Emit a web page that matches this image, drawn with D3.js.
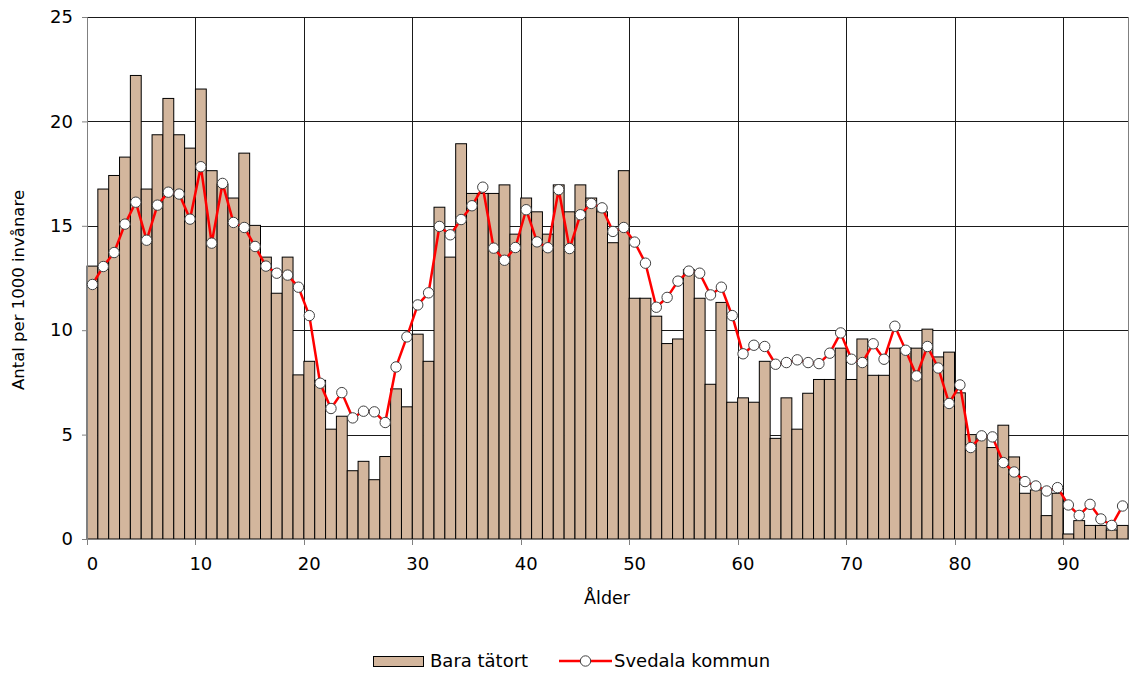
<!DOCTYPE html>
<html lang="sv">
<head>
<meta charset="utf-8">
<title>Antal per 1000 invånare efter ålder</title>
<script src="https://cdn.jsdelivr.net/npm/d3@7/dist/d3.min.js"></script>
<style>
  html, body { margin: 0; padding: 0; background: #fff; }
  svg { display: block; font-family: "DejaVu Sans", Verdana, sans-serif; }
</style>
</head>
<body>
<svg id="chart" width="1129" height="673"></svg>
<script>
// Ages 0–95
const ages = [
  0, 1, 2, 3, 4, 5, 6, 7, 8, 9,
  10, 11, 12, 13, 14, 15, 16, 17, 18, 19,
  20, 21, 22, 23, 24, 25, 26, 27, 28, 29,
  30, 31, 32, 33, 34, 35, 36, 37, 38, 39,
  40, 41, 42, 43, 44, 45, 46, 47, 48, 49,
  50, 51, 52, 53, 54, 55, 56, 57, 58, 59,
  60, 61, 62, 63, 64, 65, 66, 67, 68, 69,
  70, 71, 72, 73, 74, 75, 76, 77, 78, 79,
  80, 81, 82, 83, 84, 85, 86, 87, 88, 89,
  90, 91, 92, 93, 94, 95
];

// Bara tätort – antal per 1000 invånare
const baraTatort = [
  13.07, 16.76, 17.41, 18.29, 22.20, 16.76, 19.36, 21.10, 19.36, 18.72,
  21.55, 17.64, 17.00, 16.33, 18.48, 15.02, 13.50, 11.77, 13.50, 7.86,
  8.51, 7.60, 5.26, 5.88, 3.27, 3.72, 2.84, 3.95, 7.19, 6.33,
  9.81, 8.51, 15.89, 13.50, 18.93, 16.55, 16.55, 16.55, 16.96, 14.60,
  16.33, 15.67, 14.60, 16.96, 15.67, 16.96, 16.33, 15.67, 14.19, 17.64,
  11.53, 11.53, 10.67, 9.36, 9.58, 12.90, 11.53, 7.41, 11.33, 6.55,
  6.76, 6.55, 8.51, 4.82, 6.76, 5.26, 6.98, 7.64, 7.64, 9.14,
  7.64, 9.58, 7.84, 7.84, 9.14, 9.14, 9.14, 10.05, 8.72, 8.95,
  7.00, 5.00, 4.90, 4.38, 5.45, 3.93, 2.19, 2.35, 1.12, 2.19,
  0.24, 0.88, 0.65, 0.65, 0.43, 0.65
];

// Svedala kommun – antal per 1000 invånare
const svedalaKommun = [
  12.19, 13.05, 13.72, 15.08, 16.13, 14.31, 15.99, 16.61, 16.52, 15.32,
  17.83, 14.17, 17.03, 15.16, 14.92, 14.01, 13.07, 12.73, 12.64, 12.06,
  10.70, 7.46, 6.25, 7.01, 5.80, 6.12, 6.09, 5.58, 8.24, 9.68,
  11.21, 11.79, 14.97, 14.57, 15.30, 15.96, 16.85, 13.93, 13.35, 13.96,
  15.77, 14.23, 13.95, 16.73, 13.91, 15.53, 16.07, 15.86, 14.73, 14.92,
  14.22, 13.21, 11.10, 11.57, 12.35, 12.83, 12.73, 11.69, 12.06, 10.70,
  8.87, 9.28, 9.22, 8.37, 8.45, 8.58, 8.45, 8.40, 8.90, 9.87,
  8.61, 8.45, 9.35, 8.61, 10.19, 9.04, 7.81, 9.22, 8.19, 6.49,
  7.38, 4.38, 4.94, 4.89, 3.66, 3.21, 2.75, 2.54, 2.30, 2.46,
  1.63, 1.13, 1.66, 0.96, 0.65, 1.58
];

const xTickAges = [0, 10, 20, 30, 40, 50, 60, 70, 80, 90];
const yTicks = [0, 5, 10, 15, 20, 25];

const seriesNames = ["Bara tätort", "Svedala kommun"];
const yTitle = "Antal per 1000 invånare";
const xTitle = "Ålder";

const rows = ages.map((a, i) => ({ age: a, bar: baraTatort[i], line: svedalaKommun[i] }));

const svg = d3.select("#chart");
const plot = { left: 87, right: 1128, top: 17, bottom: 539 };

const x = d3.scaleBand().domain(ages).range([plot.left, plot.right]).padding(0);
const y = d3.scaleLinear().domain([0, 25]).range([plot.bottom, plot.top]);
const bw = x.bandwidth();

const barFill = "#d3b69d";
const gridColor = "#1a1a1a";
const axisColor = "#808080";

// Grid
const grid = svg.append("g").attr("shape-rendering", "crispEdges");
grid.selectAll("line.h")
  .data(yTicks.filter(v => v > 0))
  .join("line")
  .attr("x1", plot.left).attr("x2", plot.right)
  .attr("y1", d => Math.round(y(d)) + 0.5).attr("y2", d => Math.round(y(d)) + 0.5)
  .attr("stroke", gridColor).attr("stroke-width", 1);
grid.selectAll("line.v")
  .data(xTickAges.filter(v => v > 0))
  .join("line")
  .attr("x1", d => Math.round(x(d)) + 0.5).attr("x2", d => Math.round(x(d)) + 0.5)
  .attr("y1", plot.top).attr("y2", plot.bottom)
  .attr("stroke", gridColor).attr("stroke-width", 1);
// right frame
grid.append("line")
  .attr("x1", plot.right + 0.5).attr("x2", plot.right + 0.5)
  .attr("y1", plot.top).attr("y2", plot.bottom)
  .attr("stroke", axisColor);

// Bars
svg.append("g")
  .selectAll("rect")
  .data(rows)
  .join("rect")
  .attr("x", d => x(d.age))
  .attr("y", d => y(d.bar))
  .attr("width", bw)
  .attr("height", d => y(0) - y(d.bar))
  .attr("fill", barFill)
  .attr("stroke", "#000")
  .attr("stroke-width", 1);

// Axes
const yAxis = d3.axisLeft(y).tickValues(yTicks).tickSize(5).tickPadding(9).tickFormat(d3.format("d"));
const gy = svg.append("g").attr("transform", `translate(${plot.left},0)`).call(yAxis);
gy.select(".domain").attr("stroke", axisColor);
gy.selectAll(".tick line").attr("stroke", axisColor);
gy.selectAll(".tick text").attr("font-size", 18).attr("fill", "#000")
  .attr("font-family", "'DejaVu Sans', Verdana, sans-serif");

const gx = svg.append("g").attr("transform", `translate(0,${plot.bottom})`);
gx.append("line")
  .attr("x1", plot.left).attr("x2", plot.right + 1)
  .attr("y1", 0.5).attr("y2", 0.5)
  .attr("stroke", axisColor);
gx.selectAll("line.tick")
  .data(xTickAges)
  .join("line")
  .attr("class", "tick")
  .attr("x1", d => Math.round(x(d)) + 0.5).attr("x2", d => Math.round(x(d)) + 0.5)
  .attr("y1", 0).attr("y2", 6)
  .attr("stroke", axisColor);
gx.selectAll("text")
  .data(xTickAges)
  .join("text")
  .attr("x", d => x(d) + bw / 2)
  .attr("y", 31)
  .attr("text-anchor", "middle")
  .attr("font-size", 18)
  .text(d => d);

// Svedala kommun line and markers
const line = d3.line()
  .x(d => x(d.age) + bw / 2)
  .y(d => y(d.line));
svg.append("path")
  .datum(rows)
  .attr("d", line)
  .attr("fill", "none")
  .attr("stroke", "#ff0000")
  .attr("stroke-width", 2.5)
  .attr("stroke-linejoin", "round");
svg.append("g")
  .selectAll("circle")
  .data(rows)
  .join("circle")
  .attr("cx", d => x(d.age) + bw / 2)
  .attr("cy", d => y(d.line))
  .attr("r", 5.2)
  .attr("fill", "#fff")
  .attr("stroke", "#404040")
  .attr("stroke-width", 1);

// Axis titles
svg.append("text")
  .attr("transform", `translate(24,${(plot.top + plot.bottom) / 2 + 12}) rotate(-90)`)
  .attr("text-anchor", "middle")
  .attr("font-size", 16.5)
  .text(yTitle);
svg.append("text")
  .attr("x", 607).attr("y", 604)
  .attr("text-anchor", "middle")
  .attr("font-size", 17.5)
  .text(xTitle);

// Legend
const lg = svg.append("g");
lg.append("rect")
  .attr("x", 373.5).attr("y", 656.5).attr("width", 50).attr("height", 10)
  .attr("fill", barFill).attr("stroke", "#000");
lg.append("text").attr("x", 430).attr("y", 667).attr("font-size", 18).text(seriesNames[0]);
lg.append("line")
  .attr("x1", 559).attr("x2", 612).attr("y1", 661).attr("y2", 661)
  .attr("stroke", "#ff0000").attr("stroke-width", 2.5);
lg.append("circle")
  .attr("cx", 585.5).attr("cy", 661).attr("r", 5.2)
  .attr("fill", "#fff").attr("stroke", "#404040");
lg.append("text").attr("x", 614).attr("y", 667).attr("font-size", 18).text(seriesNames[1]);
</script>
</body>
</html>
